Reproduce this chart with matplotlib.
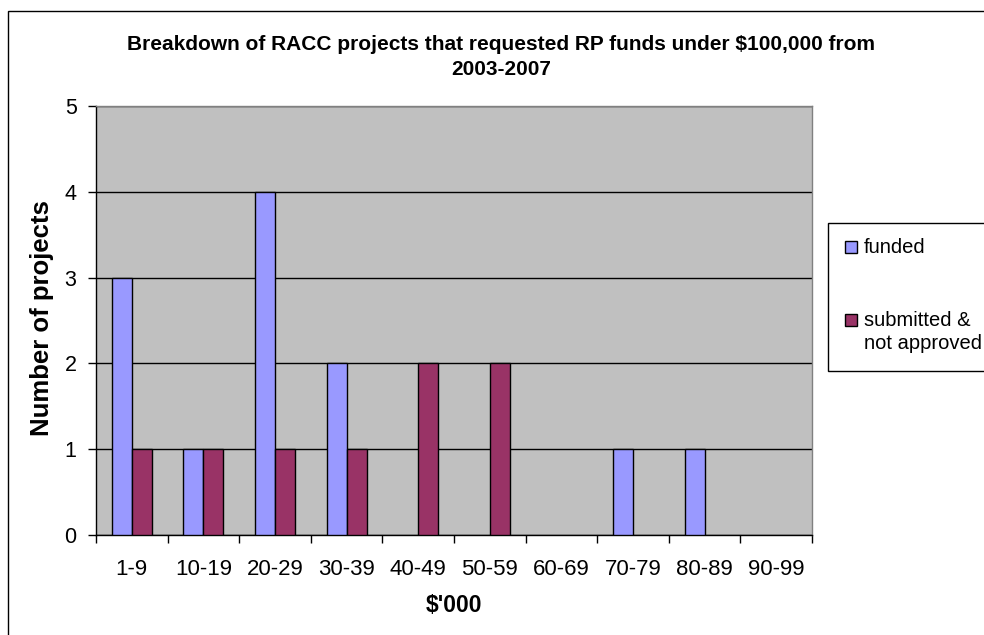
import matplotlib
matplotlib.use("Agg")
import matplotlib.pyplot as plt
from matplotlib.patches import Rectangle
import numpy as np

plt.rcParams['font.family'] = ['Liberation Sans', 'DejaVu Sans']

categories = ["1-9", "10-19", "20-29", "30-39", "40-49", "50-59", "60-69", "70-79", "80-89", "90-99"]
funded = [3, 1, 4, 2, 0, 0, 0, 1, 1, 0]
not_approved = [1, 1, 1, 1, 2, 2, 0, 0, 0, 0]
yticks = [0, 1, 2, 3, 4, 5]
series_labels = ["funded", "submitted &\nnot approved"]
title = "Breakdown of RACC projects that requested RP funds under $100,000 from\n2003-2007"

W, H = 984, 635
fig = plt.figure(figsize=(W / 100, H / 100), dpi=100)
ax = fig.add_axes([96 / W, 1 - 535 / H, (812 - 96) / W, (535 - 106) / H])
ax.set_facecolor("#C0C0C0")

x = np.arange(len(categories))
bw = 0.28
b1 = ax.bar(x - bw / 2, funded, bw, color="#9999FF", edgecolor="black", linewidth=1, zorder=3)
b2 = ax.bar(x + bw / 2, not_approved, bw, color="#993366", edgecolor="black", linewidth=1, zorder=3)
for cont in (b1, b2):
    for rect in cont:
        if rect.get_height() == 0:
            rect.set_visible(False)

ax.set_xlim(-0.5, len(categories) - 0.5)
ax.set_ylim(0, 5)
ax.set_yticks(yticks)
ax.set_yticklabels([str(v) for v in yticks], fontsize=15.5)
ax.yaxis.grid(True, color="black", linewidth=1, zorder=1)
ax.set_axisbelow(True)
ax.set_xticks(x)
ax.set_xticklabels(categories, fontsize=16)
ax.set_xticks(np.arange(-0.5, len(categories)), minor=True)
ax.tick_params(axis='x', which='major', length=0, pad=17)
ax.tick_params(axis='x', which='minor', length=6, width=1, color="black")
ax.tick_params(axis='y', length=6, width=1, pad=8)

for s in ["top", "right"]:
    ax.spines[s].set_color("#808080")
    ax.spines[s].set_linewidth(1)
for s in ["left", "bottom"]:
    ax.spines[s].set_color("black")
    ax.spines[s].set_linewidth(1)

fig.text(42 / W, 1 - 318 / H, "Number of projects", rotation=90, ha="center", va="center",
         fontsize=18.5, fontweight="bold")
fig.text(454 / W, 1 - 606 / H, "$'000", ha="center", va="center", fontsize=16.5, fontweight="bold")

fig.text(501 / W, 1 - 57 / H, title, ha="center", va="center", fontsize=15, fontweight="bold",
         linespacing=1.35)

# outer chart border
fig.add_artist(Rectangle((8 / W, -0.1), 1.2, 1 - 11 / H + 0.1, transform=fig.transFigure,
                         fill=False, edgecolor="black", linewidth=1, clip_on=False))

# legend
fig.add_artist(Rectangle((828 / W, 1 - 371 / H), 1.0, (371 - 223) / H, transform=fig.transFigure,
                         facecolor="white", edgecolor="black", linewidth=1, clip_on=False))
legend_y = [247, 320]
for cont, lab, yy in zip((b1, b2), series_labels, legend_y):
    fig.add_artist(Rectangle((845 / W, 1 - (yy + 6) / H), 12 / W, 12 / H, transform=fig.transFigure,
                             facecolor=cont.patches[0].get_facecolor(), edgecolor="black", linewidth=1))
    fig.text(864 / W, 1 - (yy - 9) / H, lab, ha="left", va="top", fontsize=14.5, linespacing=1.25)

fig.savefig("out.png", dpi=100)
